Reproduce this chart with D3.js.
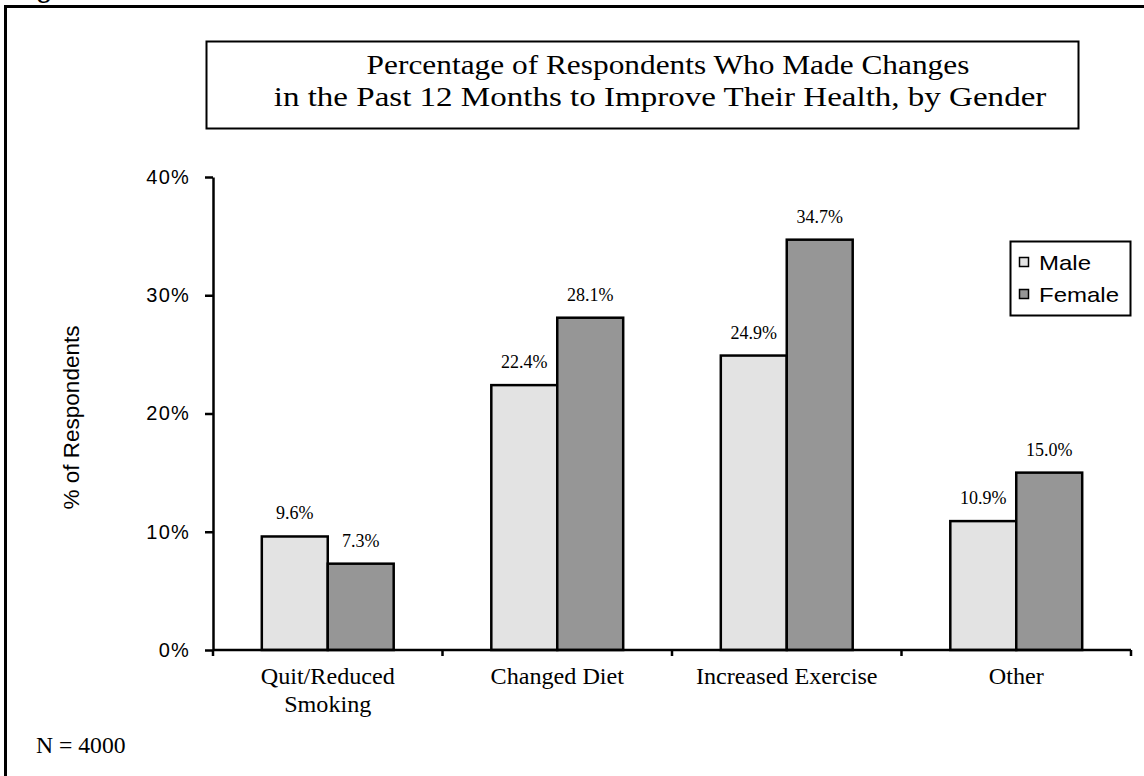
<!DOCTYPE html>
<html>
<head>
<meta charset="utf-8">
<script src="https://cdn.jsdelivr.net/npm/d3@7/dist/d3.min.js"></script>
<style>
  html, body { margin: 0; padding: 0; background: #fff; }
  svg { display: block; }
</style>
</head>
<body>
<svg id="chart" width="1144" height="776"></svg>
<script>
// Survey results: share of respondents making health changes, by gender
const categories = [["Quit/Reduced", "Smoking"], ["Changed Diet"], ["Increased Exercise"], ["Other"]];
const seriesNames = ["Male", "Female"];
const maleValues = [9.6, 22.4, 24.9, 10.9];
const femaleValues = [7.3, 28.1, 34.7, 15.0];
const yTicks = [0, 10, 20, 30, 40];
const titleLines = ["Percentage of Respondents Who Made Changes", "in the Past 12 Months to Improve Their Health, by Gender"];
const yAxisTitle = "% of Respondents";
const footnote = "N = 4000";

const colors = { Male: "#e3e3e3", Female: "#969696" };
const serif = "'Liberation Serif', 'Times New Roman', serif";
const sans = "'Liberation Sans', Arial, Helvetica, sans-serif";

const svg = d3.select("#chart");

// text placed at (x, y), optionally widened horizontally about its anchor
function wideText(parent, x, y, str, opts) {
  const g = parent.append("g").attr("transform", `translate(${x},${y}) scale(${opts.sx || 1},1)`);
  return g.append("text")
    .attr("text-anchor", opts.anchor || "start")
    .attr("font-family", opts.family)
    .attr("font-size", opts.size)
    .text(str);
}

const rows = categories.map((c, i) => ({
  key: c.join(" "),
  label: c,
  values: [
    { series: "Male", value: maleValues[i] },
    { series: "Female", value: femaleValues[i] }
  ]
}));

const plot = { left: 213, right: 1131, top: 177, bottom: 650 };

const x0 = d3.scaleBand()
  .domain(rows.map(d => d.key))
  .range([plot.left, plot.right])
  .paddingInner(0).paddingOuter(0);

const x1 = d3.scaleBand()
  .domain(seriesNames)
  .range([0, x0.bandwidth()])
  .paddingInner(0).paddingOuter(0.74);

const y = d3.scaleLinear().domain([0, 40]).range([plot.bottom, plot.top]);

// Outer frame (runs off the right and bottom edges)
svg.append("rect")
  .attr("x", 5.5).attr("y", 6.5)
  .attr("width", 1300).attr("height", 1000)
  .attr("fill", "none").attr("stroke", "#000").attr("stroke-width", 3);

wideText(svg, 12, -2, "Figure", { family: sans, size: 24, sx: 1.2 });

// Title box
svg.append("rect")
  .attr("x", 206.5).attr("y", 41.5)
  .attr("width", 872).attr("height", 87)
  .attr("fill", "#fff").attr("stroke", "#000").attr("stroke-width", 2);

const titleCenters = [668, 660];
const titleWiden = [1.12, 1.18];
titleLines.forEach((line, i) => {
  wideText(svg, titleCenters[i], 74 + i * 32, line,
    { family: serif, size: 28, anchor: "middle", sx: titleWiden[i] });
});

// Y axis
const yAxis = svg.append("g")
  .attr("transform", `translate(${plot.left},0)`)
  .call(d3.axisLeft(y).tickValues(yTicks).tickSize(8).tickSizeOuter(0).tickPadding(15)
    .tickFormat(d => d + "%"));
yAxis.select(".domain").attr("stroke-width", 2.5);
yAxis.selectAll(".tick line").attr("stroke-width", 2.5);
yAxis.selectAll(".tick text")
  .attr("font-family", sans).attr("font-size", 20)
  .attr("letter-spacing", "1.2px")
  .attr("fill", "#000");

svg.append("text")
  .attr("transform", `translate(79,${(plot.top + plot.bottom) / 2 + 4}) rotate(-90)`)
  .attr("text-anchor", "middle")
  .attr("font-family", sans).attr("font-size", 22.5)
  .text(yAxisTitle);

// Bars
const groups = svg.append("g").selectAll("g")
  .data(rows)
  .join("g")
  .attr("transform", d => `translate(${x0(d.key)},0)`);

groups.selectAll("rect")
  .data(d => d.values)
  .join("rect")
  .attr("x", d => x1(d.series))
  .attr("y", d => y(d.value))
  .attr("width", x1.bandwidth())
  .attr("height", d => y(0) - y(d.value))
  .attr("fill", d => colors[d.series])
  .attr("stroke", "#000").attr("stroke-width", 2.5);

groups.each(function (row) {
  const g = d3.select(this);
  row.values.forEach(d => {
    wideText(g, x1(d.series) + x1.bandwidth() / 2, y(d.value) - 17,
      d.value.toFixed(1) + "%", { family: serif, size: 18, anchor: "middle" });
  });
});

// X axis: baseline with ticks at category boundaries
const xAxis = svg.append("g");
xAxis.append("line")
  .attr("x1", plot.left).attr("x2", plot.right)
  .attr("y1", y(0)).attr("y2", y(0))
  .attr("stroke", "#000").attr("stroke-width", 2.5);
const bounds = rows.map(d => x0(d.key)).concat([x0(rows[rows.length - 1].key) + x0.bandwidth()]);
xAxis.selectAll("line.tick")
  .data(bounds)
  .join("line")
  .attr("class", "tick")
  .attr("x1", d => d).attr("x2", d => d)
  .attr("y1", y(0)).attr("y2", y(0) + 6)
  .attr("stroke", "#000").attr("stroke-width", 2.5);

rows.forEach(row => {
  const cx = x0(row.key) + x0.bandwidth() / 2;
  row.label.forEach((line, i) => {
    wideText(xAxis, cx, 684 + i * 28, line, { family: serif, size: 23, anchor: "middle", sx: 1.05 });
  });
});

// Legend
const legend = svg.append("g");
legend.append("rect")
  .attr("x", 1010.5).attr("y", 241.5)
  .attr("width", 120).attr("height", 74)
  .attr("fill", "#fff").attr("stroke", "#000").attr("stroke-width", 2);
seriesNames.forEach((name, i) => {
  const cy = 262 + i * 32;
  legend.append("rect")
    .attr("x", 1019.5).attr("y", cy - 4.5)
    .attr("width", 9).attr("height", 9)
    .attr("fill", colors[name])
    .attr("stroke", "#000").attr("stroke-width", 1.5);
  wideText(legend, 1039, cy + 7.5, name, { family: sans, size: 20, sx: 1.2 });
});

// Sample size note
wideText(svg, 36, 753, footnote, { family: serif, size: 23, sx: 1.03 });
</script>
</body>
</html>
